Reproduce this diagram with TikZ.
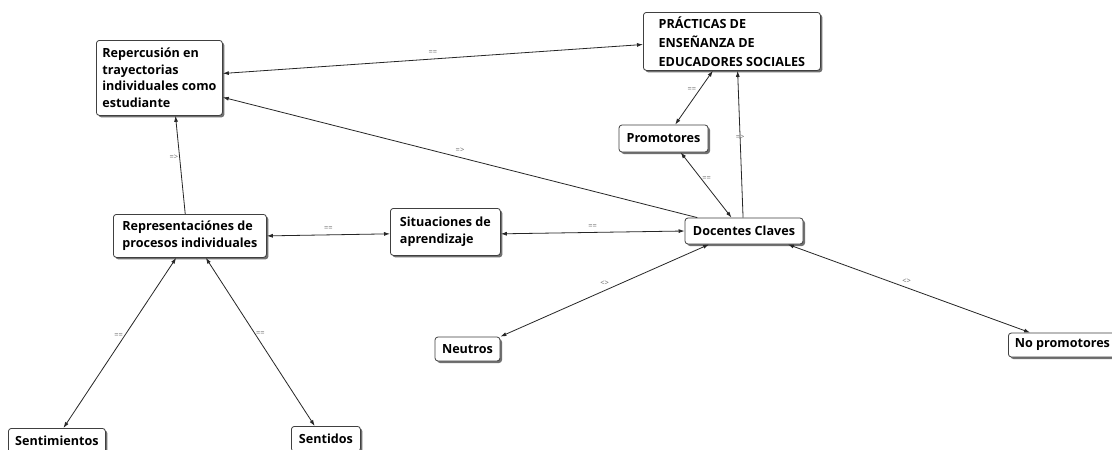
\documentclass[tikz,border=0pt]{standalone}
\usepackage{fontspec}
\setmainfont{Open Sans}
\usetikzlibrary{shadows,arrows.meta}
\begin{document}
\begin{tikzpicture}[x=1pt,y=-1pt,
  box/.style={draw=black!75, line width=0.8pt, rounded corners=3pt, fill=white, align=left,
    font=\fontsize{12.6}{16.5}\selectfont\bfseries, inner xsep=3pt, inner ysep=4pt,
    minimum height=25pt,
    drop shadow={shadow xshift=2pt, shadow yshift=-2pt, fill=black!65, opacity=0.85}},
  link/.style={draw=black!85, line width=0.8pt},
  both/.style={link, {Latex[length=6pt,width=4pt]}-{Latex[length=6pt,width=4pt]}},
  toarr/.style={link, -{Latex[length=6pt,width=4pt]}},
  lab/.style={font=\fontsize{7.5}{8}\selectfont, text=black!60, inner sep=1pt}
]
\useasboundingbox (0,0) rectangle (1112,450);
\fill[white] (0,0) rectangle (1112,450);

\node[box, anchor=north west, minimum width=126pt, minimum height=75pt] (rep) at (96,40) {Repercusión en\\trayectorias\\individuales como\\estudiante};
\node[box, anchor=north west, minimum width=177pt, minimum height=58pt, font=\fontsize{12.6}{19}\selectfont\bfseries] (prac) at (643,12) {PRÁCTICAS DE\\ENSEÑANZA DE\\EDUCADORES SOCIALES};
\node[box, minimum width=89pt, minimum height=27pt] (prom) at (663.5,138.5) {Promotores};
\node[box, minimum width=118pt, minimum height=26pt] (doc) at (744,231) {Docentes Claves};
\node[box, anchor=north west, minimum width=110pt, minimum height=47pt] (sit) at (390,208) {Situaciones de\\aprendizaje};
\node[box, anchor=north west, minimum width=153pt, minimum height=43pt] (repr) at (113,214) {Representaciónes de\\procesos individuales};
\node[box, minimum width=65pt, minimum height=24pt] (neu) at (467.5,349) {Neutros};
\node[box, anchor=west, minimum width=108pt, minimum height=24pt] (nop) at (1008,345) {No promotores};
\node[box, anchor=north west, minimum width=97pt] (senti) at (8,428) {Sentimientos};
\node[box, anchor=north west, minimum width=69pt] (sentd) at (291,426) {Sentidos};

\draw[both] (rep.4) -- node[lab, pos=0.5, above=3pt] {==} (prac.182);
\draw[toarr] (doc.164.5) -- node[lab, pos=0.5, above=4pt] {=>} (rep.-17);
\draw[both] (prom.50) -- node[lab, pos=0.65, left=2pt] {==} (prac.237.5);
\draw[toarr] (doc.94) -- node[lab, pos=0.55] {=>} (prac.-79);
\draw[both] (prom.-39) -- node[lab, pos=0.4, right=0pt] {==} (doc.133);
\draw[both] (sit.-2) -- node[lab, pos=0.5, above=3pt] {==} (doc.west);
\draw[both] (repr.east) -- node[lab, pos=0.5, above=3pt] {==} (sit.182);
\draw[toarr] (repr.102) -- node[lab, pos=0.58, left=0pt] {=>} (rep.-67);
\draw[both] (doc.201) -- node[lab, pos=0.5, above=4pt] {<>} (neu.north east);
\draw[both] (doc.-17) -- node[lab, pos=0.49, above=3pt] {<>} (nop.159);
\draw[both] (repr.238) -- node[lab, pos=0.46, left=0pt] {==} (senti.63);
\draw[both] (repr.-54) -- node[lab, pos=0.45, right=0pt] {==} (sentd.131.5);
\end{tikzpicture}
\end{document}
